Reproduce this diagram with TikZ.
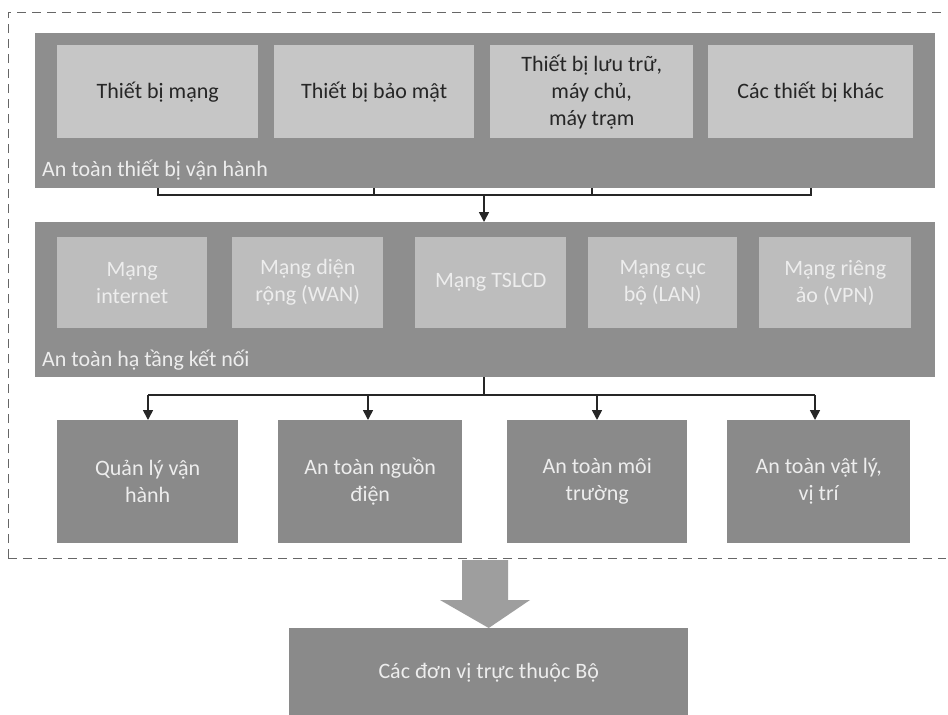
\documentclass[tikz,border=0pt]{standalone}
\usepackage{fontspec}
\setmainfont{Carlito}
\usetikzlibrary{arrows.meta}
\definecolor{panel}{HTML}{8E8E8E}
\definecolor{inner}{HTML}{C6C6C6}
\definecolor{innertwo}{HTML}{BDBDBD}
\definecolor{darkbox}{HTML}{8A8A8A}
\definecolor{pale}{HTML}{EDEDED}
\begin{document}
\begin{tikzpicture}[x=1pt,y=-1pt,
  panelbox/.style={fill=panel,draw=none,inner sep=0,anchor=north west},
  lightbox/.style={fill=inner,draw=none,align=center,text=black!85,font=\fontsize{22}{27}\selectfont,inner sep=0,anchor=north west},
  netbox/.style={fill=innertwo,draw=none,align=center,text=pale,font=\fontsize{22}{27}\selectfont,inner sep=0,anchor=north west},
  darkcell/.style={fill=darkbox,draw=none,align=center,text=pale,font=\fontsize{22}{27}\selectfont,inner sep=0,anchor=north west},
  paneltitle/.style={text=pale,font=\fontsize{22}{27}\selectfont,anchor=west,inner sep=0},
  conn/.style={line width=1.6pt,black!85},
  arr/.style={conn,-{Triangle[length=10pt,width=10pt]}}]
\useasboundingbox (0,0) rectangle (948,715);
\fill[white] (0,0) rectangle (948,715);
% dashed frame
\draw[dash pattern=on 9pt off 6pt,black!60,line width=0.8pt] (8,558) -- (8,12) -- (946,12);
\draw[dash pattern=on 9pt off 6pt,black!60,line width=0.8pt] (8,558) -- (946,558);
% panel 1
\node[panelbox,minimum width=900pt,minimum height=155pt] (p1) at (35,33) {};
\node[lightbox,minimum width=201pt,minimum height=93pt] (b1) at (57,45) {Thiết bị mạng};
\node[lightbox,minimum width=200pt,minimum height=93pt] (b2) at (274,45) {Thiết bị bảo mật};
\node[lightbox,minimum width=203pt,minimum height=93pt] (b3) at (490,45) {Thiết bị lưu trữ,\\máy chủ,\\máy trạm};
\node[lightbox,minimum width=205pt,minimum height=93pt] (b4) at (708,45) {Các thiết bị khác};
\node[paneltitle] (t1) at (42,170) {An toàn thiết bị vận hành};
% panel 2
\node[panelbox,minimum width=900pt,minimum height=155pt] (p2) at (35,222) {};
\node[netbox,minimum width=150pt,minimum height=91pt] (n1) at (57,237) {Mạng\\internet};
\node[netbox,minimum width=151pt,minimum height=91pt] (n2) at (232,237) {Mạng diện\\rộng (WAN)};
\node[netbox,minimum width=151pt,minimum height=91pt] (n3) at (415,237) {Mạng TSLCD};
\node[netbox,minimum width=149pt,minimum height=91pt] (n4) at (588,237) {Mạng cục\\bộ (LAN)};
\node[netbox,minimum width=152pt,minimum height=91pt] (n5) at (759,237) {Mạng riêng\\ảo (VPN)};
\node[paneltitle] (t2) at (42,360) {An toàn hạ tầng kết nối};
% bottom cells
\node[darkcell,minimum width=181pt,minimum height=123pt] (c1) at (57,420) {Quản lý vận\\hành};
\node[darkcell,minimum width=184pt,minimum height=123pt] (c2) at (278,420) {An toàn nguồn\\điện};
\node[darkcell,minimum width=180pt,minimum height=123pt] (c3) at (507,420) {An toàn môi\\trường};
\node[darkcell,minimum width=183pt,minimum height=123pt] (c4) at (727,420) {An toàn vật lý,\\vị trí};
% final box
\node[darkcell,minimum width=399pt,minimum height=90pt] (f) at (289,628) {Các đơn vị trực thuộc Bộ};
% connectors panel1 -> panel2
\coordinate (j1) at (484,195);
\draw[conn] (b1.south |- p1.south) -- (b1.south |- j1) -- (b4.south |- j1) -- (b4.south |- p1.south);
\draw[conn] (b2.south |- p1.south) -- (b2.south |- j1);
\draw[conn] (b3.south |- p1.south) -- (b3.south |- j1);
\draw[arr] (j1) -- (j1 |- p2.north);
% panel2 -> cells
\coordinate (j2) at (484,395);
\draw[conn] (j2 |- p2.south) -- (j2);
\coordinate (a1) at (148,395);
\coordinate (a2) at (368,395);
\coordinate (a3) at (597,395);
\coordinate (a4) at (815,395);
\draw[conn] (a1) -- (a4);
\draw[arr] (a1) -- (a1 |- c1.north);
\draw[arr] (a2) -- (a2 |- c2.north);
\draw[arr] (a3) -- (a3 |- c3.north);
\draw[arr] (a4) -- (a4 |- c4.north);
% block arrow
\fill[black!38] (462,560) -- (508,560) -- (508,600) -- (530,600) -- (f.north) -- (440,600) -- (462,600) -- cycle;
\end{tikzpicture}
\end{document}
